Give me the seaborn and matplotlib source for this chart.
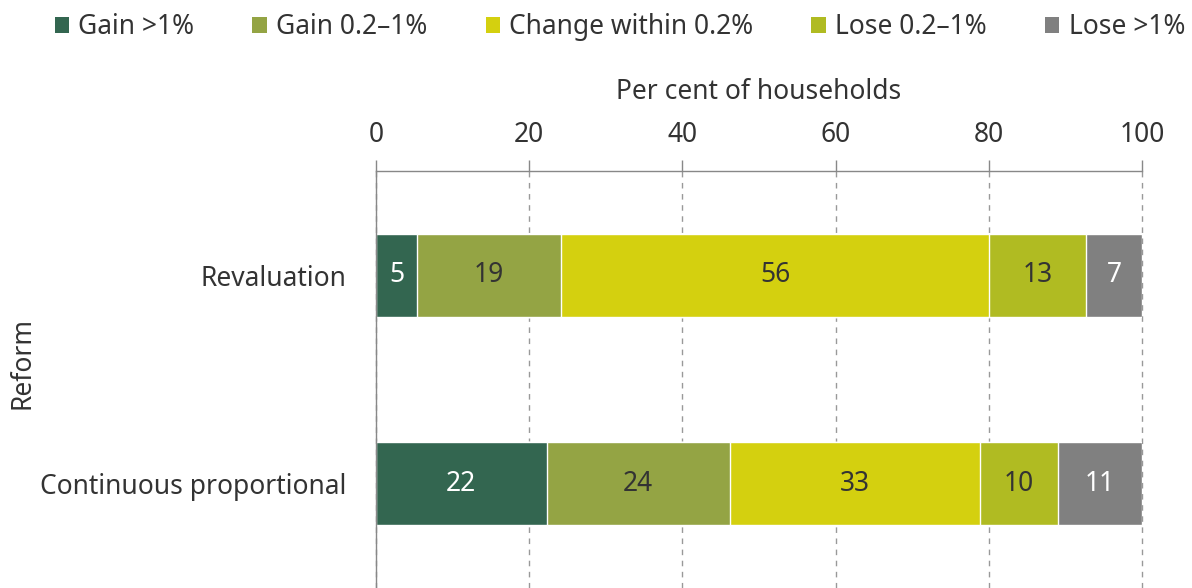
import numpy as np
import pandas as pd
import matplotlib
matplotlib.use("Agg")
import matplotlib.pyplot as plt
from matplotlib.patches import Patch
import seaborn as sns

# data (per cent of households)
reforms = ["Revaluation", "Continuous proportional"]
groups = ["Gain >1%", "Gain 0.2\u20131%", "Change within 0.2%", "Lose 0.2\u20131%", "Lose >1%"]
revaluation = [5.35, 18.8, 55.9, 12.7, 7.2]
continuous = [22.3, 23.9, 32.65, 10.2, 11.0]
colors = ["#336650", "#94a444", "#d4d00f", "#b0bb22", "#808080"]
text_colors = ["white", "#333333", "#333333", "#333333", "white"]

sns.set_style("white")
plt.rcParams["font.family"] = ["Noto Sans", "DejaVu Sans"]
FS = 19

vals = np.array([revaluation, continuous])
cum = vals.cumsum(axis=1)

fig = plt.figure(figsize=(11.92, 5.88), dpi=100)
ax = fig.add_axes([0.3154, 0.0, 0.6426, 0.7092])

# stacked bars: draw cumulative totals from the widest down
for i in reversed(range(len(groups))):
    df = pd.DataFrame({"reform": reforms, "value": cum[:, i]})
    sns.barplot(data=df, x="value", y="reform", color=colors[i], width=0.4,
                orient="h", saturation=1, ax=ax, zorder=3)

for r in range(len(reforms)):
    for i in range(len(groups)):
        ax.text(cum[r, i] - vals[r, i] / 2, r, f"{vals[r, i]:.0f}",
                ha="center", va="center", fontsize=FS, color=text_colors[i], zorder=4)

ax.set_xlim(0, 100)
ax.set_ylim(1.5, -0.5)
ax.xaxis.set_ticks_position("top")
ax.xaxis.set_label_position("top")
ax.set_xticks([0, 20, 40, 60, 80, 100])
ax.set_xlabel("Per cent of households", fontsize=FS, color="#333333", labelpad=16)
ax.set_ylabel("Reform", fontsize=FS, color="#333333")
ax.yaxis.set_label_coords(-0.443, 0.54)
ax.set_yticks([0, 1])
ax.set_yticklabels(reforms)
ax.set_yticks([-0.5, 0.5, 1.5], minor=True)
ax.tick_params(axis="y", which="major", length=0, pad=21, labelsize=FS, labelcolor="#333333")
ax.tick_params(axis="y", which="minor", length=8, color="#888888", width=1)
ax.tick_params(axis="x", length=8, color="#888888", width=1, labelsize=FS, labelcolor="#333333", pad=8)

ax.grid(axis="x", linestyle=(0, (4, 4)), color="#999999", linewidth=1, zorder=0)
ax.grid(axis="y", visible=False)
for g in ax.get_xgridlines():
    g.set_clip_on(False)
for s in ["right", "bottom"]:
    ax.spines[s].set_visible(False)
for s in ["left", "top"]:
    ax.spines[s].set_color("#888888")
    ax.spines[s].set_linewidth(1)
    ax.spines[s].set_zorder(5)

handles = [Patch(facecolor=c, edgecolor="none") for c in colors]
fig.legend(handles, groups, loc="upper center", bbox_to_anchor=(0.52, 1.018), ncol=5,
           frameon=False, fontsize=FS, handlelength=0.55, handleheight=0.55,
           handletextpad=0.35, columnspacing=2.2, labelcolor="#333333")

fig.savefig("out.png", dpi=100)
